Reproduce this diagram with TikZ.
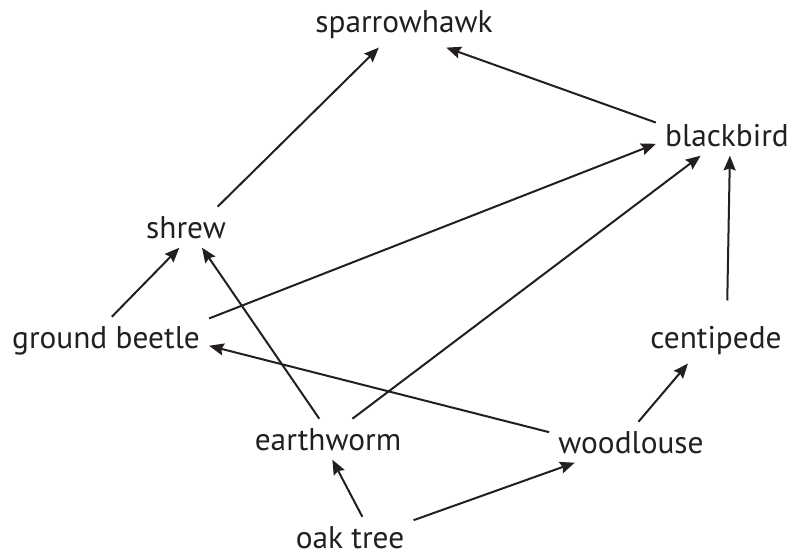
\documentclass[tikz,border=0pt]{standalone}
\usepackage{fontspec}
\setmainfont{PT Sans}
\usepackage{tikz}
\usetikzlibrary{arrows.meta}
\definecolor{ink}{HTML}{231F20}
\tikzset{
	organism/.style={font=\fontsize{23.5}{27}\selectfont, text=ink, inner sep=0pt, outer sep=7pt, anchor=base},
	eats/.style={line width=1.5pt, color=ink, -{Stealth[length=11pt, width=9pt, inset=1.5pt]}}
}

\begin{document}
\begin{tikzpicture}[x=0.75pt, y=-0.75pt]
		%%%%% START %%%%%
		
		\useasboundingbox (0, 0) rectangle (794, 558);
		
		% baselines of the names
		\node[organism] (sparrowhawk) at (404, 32) {sparrowhawk};
		\node[organism] (blackbird) at (727, 146) {blackbird};
		\node[organism] (shrew) at (186, 238) {shrew};
		\node[organism] (beetle) at (106, 348) {ground beetle};
		\node[organism] (centipede) at (716, 348) {centipede};
		\node[organism] (earthworm) at (328, 450) {earthworm};
		\node[organism] (woodlouse) at (631, 453) {woodlouse};
		\node[organism] (oak) at (350, 548) {oak tree};
		
		\draw[eats] (shrew.33) -- (sparrowhawk.223);
		\draw[eats] (blackbird.170) -- (sparrowhawk.331);
		
		\draw[eats] (beetle.12) -- (blackbird.187);
		\draw[eats] (earthworm.40) -- (blackbird.218);
		\draw[eats, shorten <=12pt] (centipede.65) -- (blackbird.278);
		
		\draw[eats] (beetle.76) -- (shrew.252);
		\draw[eats] (earthworm.113) -- (shrew.308);
		
		\draw[eats] (woodlouse.173) -- (beetle.357);
		\draw[eats] (woodlouse.70) -- (centipede.220);
		
		\draw[eats] (oak.59) -- (earthworm.282);
		\draw[eats] (oak.15) -- (woodlouse.200);
		
		%%%%% END %%%%%
	\end{tikzpicture}
\end{document}
